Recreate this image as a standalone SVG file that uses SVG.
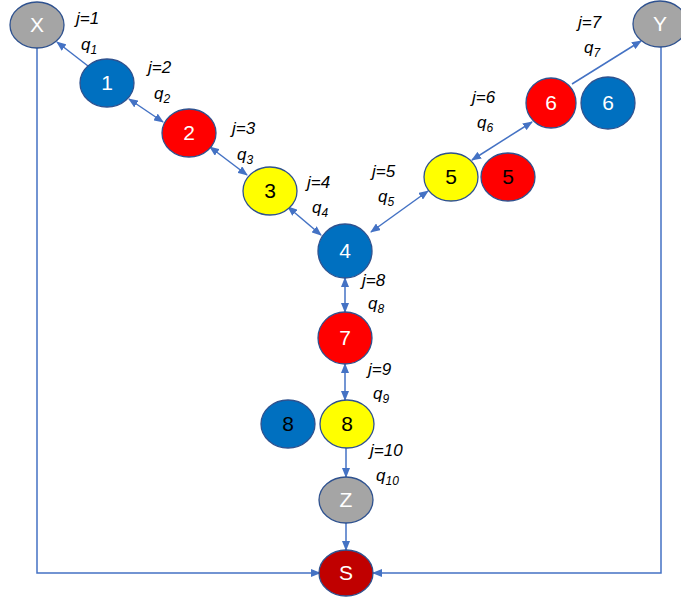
<svg xmlns="http://www.w3.org/2000/svg" width="681" height="601" viewBox="0 0 681 601">
<style>
.n{stroke:#2F528F;stroke-width:1.3}
.b{fill:#0070C0}.r{fill:#FF0000}.y{fill:#FFFF00}.g{fill:#A5A5A5}.s{fill:#C00000}
.t{font-family:"Liberation Sans",Arial,sans-serif;font-size:21px;text-anchor:middle}
.w{fill:#FFFFFF}.k{fill:#000000}
.c{stroke:#4472C4;stroke-width:1.5;fill:none}
.l{font-family:"Liberation Sans",Arial,sans-serif;font-size:17px;font-style:italic;fill:#000}
.sub{font-size:12px}
</style>
<defs>
<marker id="a" markerUnits="userSpaceOnUse" markerWidth="10" markerHeight="8" refX="9" refY="4" orient="auto-start-reverse" viewBox="0 0 10 8">
<path d="M0,0 L10,4 L0,8 z" fill="#4472C4"/>
</marker>
</defs>
<rect width="681" height="601" fill="#FFFFFF"/>
<g id="connectors">
<line class="c" x1="88" y1="66" x2="57" y2="42" marker-end="url(#a)"/>
<line class="c" x1="129" y1="99" x2="163" y2="122" marker-start="url(#a)" marker-end="url(#a)"/>
<line class="c" x1="210" y1="147" x2="247" y2="175" marker-start="url(#a)" marker-end="url(#a)"/>
<line class="c" x1="288" y1="207" x2="321" y2="235" marker-start="url(#a)" marker-end="url(#a)"/>
<line class="c" x1="371" y1="232" x2="428" y2="191" marker-start="url(#a)" marker-end="url(#a)"/>
<line class="c" x1="472" y1="160" x2="532" y2="122" marker-start="url(#a)" marker-end="url(#a)"/>
<line class="c" x1="572" y1="84" x2="641" y2="41" marker-end="url(#a)"/>
<line class="c" x1="345" y1="278" x2="345" y2="312" marker-start="url(#a)" marker-end="url(#a)"/>
<line class="c" x1="345" y1="364" x2="345" y2="400" marker-start="url(#a)" marker-end="url(#a)"/>
<line class="c" x1="346" y1="448" x2="346" y2="477" marker-end="url(#a)"/>
<line class="c" x1="346" y1="523" x2="346" y2="550" marker-end="url(#a)"/>
<polyline class="c" points="37,48 37,573 320,573" marker-end="url(#a)"/>
<polyline class="c" points="661,47 661,573 373,573" marker-end="url(#a)"/>
</g>
<g id="nX"><ellipse class="n g" cx="37" cy="25" rx="27" ry="23"/><text class="t w" x="37" y="32">X</text></g>
<g id="nY"><ellipse class="n g" cx="660" cy="24" rx="27" ry="23"/><text class="t w" x="660" y="31">Y</text></g>
<g id="n1"><ellipse class="n b" cx="107" cy="83" rx="27" ry="24"/><text class="t w" x="107" y="90">1</text></g>
<g id="n2"><ellipse class="n r" cx="189" cy="133" rx="27" ry="24"/><text class="t w" x="189" y="140">2</text></g>
<g id="n3"><ellipse class="n y" cx="270" cy="191" rx="27" ry="24"/><text class="t k" x="270" y="198">3</text></g>
<g id="n4"><ellipse class="n b" cx="345" cy="251" rx="27" ry="27"/><text class="t w" x="345" y="258">4</text></g>
<g id="n5a"><ellipse class="n y" cx="451" cy="177" rx="27" ry="24"/><text class="t k" x="451" y="184">5</text></g>
<g id="n5b"><ellipse class="n r" cx="508" cy="177" rx="27" ry="24"/><text class="t k" x="508" y="184">5</text></g>
<g id="n6a"><ellipse class="n r" cx="551" cy="103" rx="25" ry="25"/><text class="t w" x="551" y="110">6</text></g>
<g id="n6b"><ellipse class="n b" cx="608" cy="103" rx="27" ry="26"/><text class="t w" x="608" y="110">6</text></g>
<g id="n7"><ellipse class="n r" cx="345" cy="338" rx="27" ry="26"/><text class="t w" x="345" y="345">7</text></g>
<g id="n8a"><ellipse class="n b" cx="288" cy="424" rx="27" ry="24"/><text class="t k" x="288" y="431">8</text></g>
<g id="n8b"><ellipse class="n y" cx="347" cy="424" rx="27" ry="24"/><text class="t k" x="347" y="431">8</text></g>
<g id="nZ"><ellipse class="n g" cx="346" cy="500" rx="27" ry="23"/><text class="t w" x="346" y="507">Z</text></g>
<g id="nS"><ellipse class="n s" cx="346" cy="573" rx="27" ry="23"/><text class="t w" x="346" y="580">S</text></g>
<g id="labels">
<text class="l" x="76" y="24">j=1</text><text class="l" x="81" y="50">q<tspan class="sub" dy="4">1</tspan></text>
<text class="l" x="148" y="73">j=2</text><text class="l" x="154" y="99">q<tspan class="sub" dy="4">2</tspan></text>
<text class="l" x="232" y="134">j=3</text><text class="l" x="237" y="160">q<tspan class="sub" dy="4">3</tspan></text>
<text class="l" x="307" y="188">j=4</text><text class="l" x="312" y="213">q<tspan class="sub" dy="4">4</tspan></text>
<text class="l" x="372" y="177">j=5</text><text class="l" x="378" y="202">q<tspan class="sub" dy="4">5</tspan></text>
<text class="l" x="472" y="103">j=6</text><text class="l" x="477" y="128">q<tspan class="sub" dy="4">6</tspan></text>
<text class="l" x="578" y="28">j=7</text><text class="l" x="584" y="53">q<tspan class="sub" dy="4">7</tspan></text>
<text class="l" x="362" y="286">j=8</text><text class="l" x="368" y="309">q<tspan class="sub" dy="4">8</tspan></text>
<text class="l" x="368" y="375">j=9</text><text class="l" x="373" y="399">q<tspan class="sub" dy="4">9</tspan></text>
<text class="l" x="370" y="456">j=10</text><text class="l" x="376" y="481">q<tspan class="sub" dy="4">10</tspan></text>
</g>
</svg>
